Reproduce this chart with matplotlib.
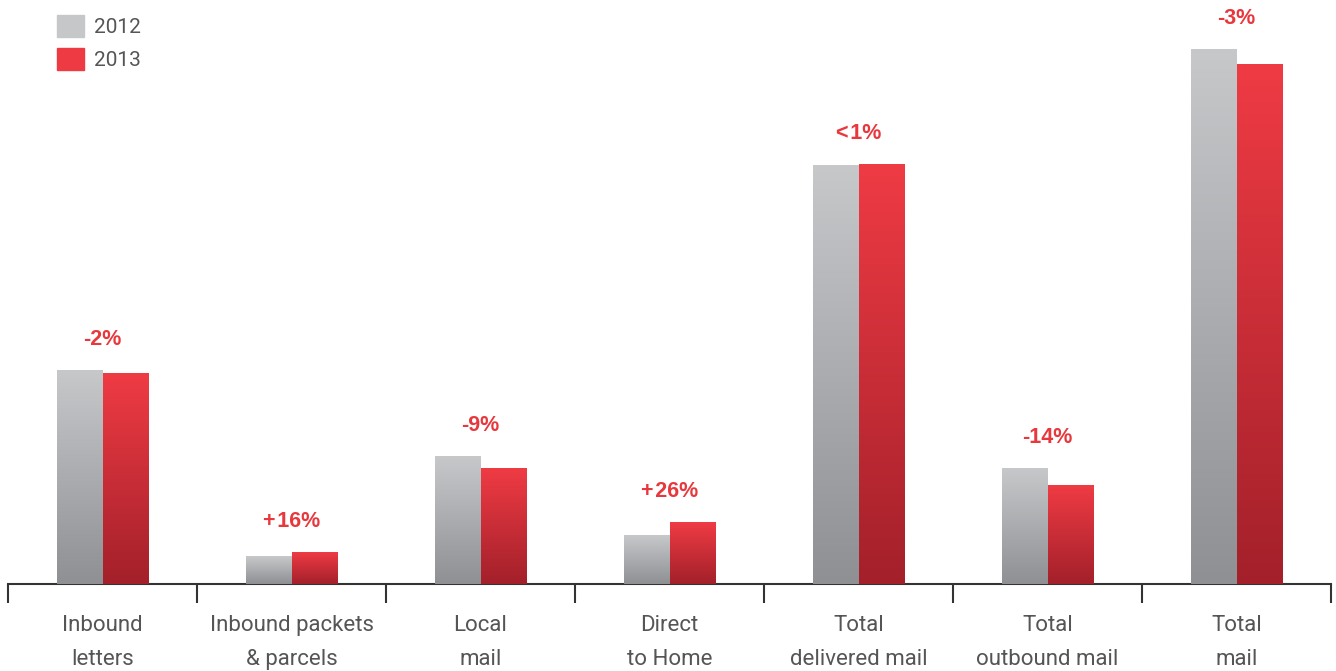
import numpy as np
import matplotlib
matplotlib.use("Agg")
import matplotlib.pyplot as plt
from matplotlib.colors import LinearSegmentedColormap
from matplotlib.patches import Patch

# data (relative units)
categories = ["Inbound\nletters", "Inbound packets\n& parcels", "Local\nmail", "Direct\nto Home",
              "Total\ndelivered mail", "Total\noutbound mail", "Total\nmail"]
vol_2012 = [214, 28, 128, 49, 419, 116, 535]
vol_2013 = [211, 32, 116, 62, 420, 99, 520]
changes = ["-2%", "+\u200a16%", "-9%", "+\u200a26%", "<\u200a1%", "-14%", "-3%"]

gray_cmap = LinearSegmentedColormap.from_list("g", ["#8f9094", "#c7c8ca"])
red_cmap = LinearSegmentedColormap.from_list("r", ["#a3202a", "#ef3b44"])

fig = plt.figure(figsize=(13.36, 6.71), dpi=100)
ax = fig.add_axes([8 / 1336, 87 / 671, 1323 / 1336, 584 / 671])

x = np.arange(len(categories))
w = 0.243
b1 = ax.bar(x - w / 2, vol_2012, w, color="#c6c7c9")
b2 = ax.bar(x + w / 2, vol_2013, w, color="#ee3a43")

# vertical gradient on each bar
grad = np.linspace(0, 1, 256).reshape(-1, 1)
for bars, cmap in ((b1, gray_cmap), (b2, red_cmap)):
    for r in bars:
        x0, y0, ww, hh = r.get_x(), r.get_y(), r.get_width(), r.get_height()
        ax.imshow(grad, cmap=cmap, origin="lower", aspect="auto",
                  extent=(x0, x0 + ww, y0, y0 + hh), zorder=3)

for i, lab in enumerate(changes):
    top = max(vol_2012[i], vol_2013[i])
    ax.text(x[i], top + 20, lab, ha="center", va="bottom", color="#e8383d",
            fontsize=15.5, fontweight="bold", family=["Liberation Sans", "DejaVu Sans"])

ax.set_xlim(-0.5, len(categories) - 0.5)
ax.set_ylim(0, 584)
for s in ("top", "right", "left"):
    ax.spines[s].set_visible(False)
ax.spines["bottom"].set_color("#333333")
ax.spines["bottom"].set_linewidth(1.5)
ax.set_yticks([])

ax.set_xticks(x)
ax.set_xticklabels(categories, fontsize=16, color="#555555", linespacing=1.8,
                   family="Roboto", fontweight="normal")
ax.tick_params(axis="x", which="major", length=0, pad=22.5)
ax.set_xticks(np.arange(-0.5, len(categories)), minor=True)
ax.tick_params(axis="x", which="minor", length=14, width=1.5, color="#333333")

handles = [Patch(color="#c6c7c9"), Patch(color="#ee3a43")]
leg = ax.legend(handles, ["2012", "2013"], loc="upper left", bbox_to_anchor=(0.026, 1.0),
                frameon=False, handlelength=1.3, handleheight=1.3, labelspacing=0.5,
                handletextpad=0.5, borderaxespad=0.3,
                prop={"family": "Roboto", "weight": "normal", "size": 15})
for t in leg.get_texts():
    t.set_color("#555555")

fig.savefig("out.png", dpi=100)
